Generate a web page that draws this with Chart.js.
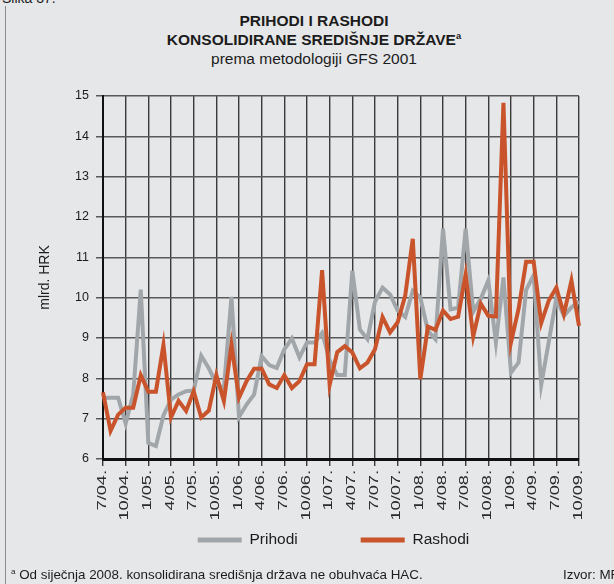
<!DOCTYPE html>
<html>
<head>
<meta charset="utf-8">
<script src="https://cdn.jsdelivr.net/npm/chart.js@4.4.0/dist/chart.umd.min.js"></script>
<style>
    html, body { margin: 0; padding: 0; }
    body {
        width: 614px; height: 584px; overflow: hidden; position: relative;
        background: #e6e7e9; color: #1c1c1c;
        font-family: "Liberation Sans", Arial, sans-serif;
    }
    #frame { position: absolute; left: 5px; top: 6px; width: 1px; height: 578px; background: #8c8c8c; }
    #slika { position: absolute; left: 2px; top: -9px; font-size: 14px; line-height: 15px; }
    #title { position: absolute; left: 0; top: 11px; width: 628px; text-align: center; line-height: 19px; font-size: 15.5px; }
    #title b sup, #foot sup { font-size: 0.6em; line-height: 0; }
    #foot { position: absolute; left: 11px; top: 567px; font-size: 13.4px; line-height: 16px; white-space: nowrap; }
    #izvor { position: absolute; left: 563px; top: 567px; font-size: 13.4px; line-height: 16px; white-space: nowrap; }
    canvas { position: absolute; left: 0; top: 0; }
</style>
</head>
<body>
<div id="frame"></div>
<div id="slika">Slika 37.</div>
<div id="title">
    <b>PRIHODI I RASHODI</b><br>
    <b>KONSOLIDIRANE SREDIŠNJE DRŽAVE<sup>a</sup></b><br>
    prema metodologiji GFS 2001
</div>
<canvas id="chart" width="614" height="584"></canvas>
<div id="foot"><sup>a</sup> Od siječnja 2008. konsolidirana središnja država ne obuhvaća HAC.</div>
<div id="izvor">Izvor: MFP.</div>

<script>
// mjeseci 7/04. - 10/09.
const startYear = 2004;
const startMonth = 7;
const monthCount = 64;
const tickEvery = 3;

const months = [];
for (let k = 0; k < monthCount; k++) {
    const m = (startMonth - 1 + k) % 12 + 1;
    const y = startYear + Math.floor((startMonth - 1 + k) / 12);
    months.push(m + '/' + String(y).slice(2) + '.');
}

// mlrd. HRK
const prihodi = [
    7.51, 7.52, 7.52, 6.88, 7.60, 10.20,
    6.40, 6.32, 7.08, 7.47, 7.60, 7.68, 7.70, 8.56, 8.25, 7.86, 7.75, 10.02,
    7.04, 7.35, 7.60, 8.55, 8.33, 8.26, 8.72, 8.99, 8.52, 8.89, 8.89, 9.13,
    8.45, 8.08, 8.08, 10.67, 9.21, 8.97, 9.90, 10.25, 10.08, 9.68, 9.52, 10.17,
    10.00, 9.18, 8.97, 11.71, 9.71, 9.75, 11.71, 9.65, 9.97, 10.43, 8.89, 10.50,
    8.14, 8.39, 10.19, 10.56, 7.84, 8.91, 9.98, 9.55, 9.76, 9.90
];
const rashodi = [
    7.65, 6.70, 7.10, 7.27, 7.27, 8.08,
    7.67, 7.67, 8.83, 7.03, 7.44, 7.19, 7.68, 7.03, 7.20, 8.08, 7.44, 8.83,
    7.52, 7.93, 8.24, 8.24, 7.85, 7.76, 8.08, 7.76, 7.93, 8.35, 8.35, 10.68,
    7.84, 8.65, 8.80, 8.64, 8.25, 8.39, 8.72, 9.52, 9.14, 9.39, 10.05, 11.46,
    7.98, 9.28, 9.20, 9.68, 9.47, 9.53, 10.58, 9.04, 9.85, 9.55, 9.53, 14.83,
    8.89, 9.72, 10.89, 10.89, 9.37, 9.93, 10.25, 9.59, 10.42, 9.30
];
const yMin = 6;
const yMax = 15;

const FONT = '"Liberation Sans", Arial, sans-serif';

// oznake na x osi: rotirane i razvučene kao u originalu
const xLabels = {
    id: 'xLabels',
    afterLayout(chart) {
        chart.legend.left -= 15;
    },
    afterDraw(chart) {
        const ctx = chart.ctx;
        const xs = chart.scales.x;
        ctx.save();
        ctx.font = '13px ' + FONT;
        ctx.fillStyle = '#2a2a2a';
        ctx.textAlign = 'right';
        ctx.textBaseline = 'middle';
        months.forEach((lab, i) => {
            if (i % tickEvery) return;
            const x = xs.getPixelForValue(i);
            ctx.save();
            ctx.translate(x - 1, xs.top + 11);
            ctx.rotate(-Math.PI / 2);
            ctx.scale(1.4, 1);
            ctx.fillText(lab, 0, 0);
            ctx.restore();
        });
        ctx.restore();
    }
};

new Chart(document.getElementById('chart'), {
    type: 'line',
    data: {
        labels: months,
        datasets: [{
            label: 'Prihodi',
            data: prihodi,
            borderColor: '#a1a6aa',
            backgroundColor: '#a1a6aa',
            borderWidth: 4,
            pointRadius: 0,
            tension: 0,
            borderJoinStyle: 'miter',
            order: 1
        }, {
            label: 'Rashodi',
            data: rashodi,
            borderColor: '#c9532b',
            backgroundColor: '#c9532b',
            borderWidth: 4,
            pointRadius: 0,
            tension: 0,
            borderJoinStyle: 'miter',
            order: 0
        }]
    },
    options: {
        responsive: false,
        animation: false,
        layout: { padding: { left: 0, right: 35, top: 96, bottom: 26.25 } },
        plugins: {
            title: { display: false },
            tooltip: { enabled: false },
            legend: {
                position: 'bottom',
                fullSize: false,
                labels: {
                    usePointStyle: true,
                    pointStyle: 'line',
                    pointStyleWidth: 44,
                    padding: 63,
                    color: '#1c1c1c',
                    font: { size: 15.5, family: FONT },
                    sort: (a, b) => a.datasetIndex - b.datasetIndex,
                    generateLabels(chart) {
                        const items = Chart.defaults.plugins.legend.labels.generateLabels(chart);
                        items.forEach(it => { it.lineWidth = 5; });
                        return items;
                    }
                }
            }
        },
        scales: {
            x: {
                type: 'category',
                offset: false,
                afterFit(scale) { scale.height = 10.25; },
                grid: {
                    offset: false,
                    color: c => (c.index % tickEvery === 0 ? '#3a3a3a' : 'rgba(0,0,0,0)'),
                    lineWidth: 1.4,
                    tickLength: 7
                },
                border: { color: '#111', width: 3 },
                ticks: { display: false, autoSkip: false, maxRotation: 0 }
            },
            y: {
                min: yMin,
                max: yMax,
                afterFit(scale) { scale.width = 103; },
                grid: { color: '#595959', lineWidth: 1.5, tickLength: 7 },
                border: { color: '#111', width: 2 },
                ticks: {
                    stepSize: 1,
                    padding: 7,
                    color: '#1c1c1c',
                    font: { size: 12.5, family: FONT }
                },
                title: {
                    display: true,
                    text: 'mlrd. HRK',
                    color: '#1c1c1c',
                    font: { size: 14, family: FONT },
                    padding: { top: 36.6, bottom: 0 }
                }
            }
        }
    },
    plugins: [xLabels]
});
</script>
</body>
</html>
